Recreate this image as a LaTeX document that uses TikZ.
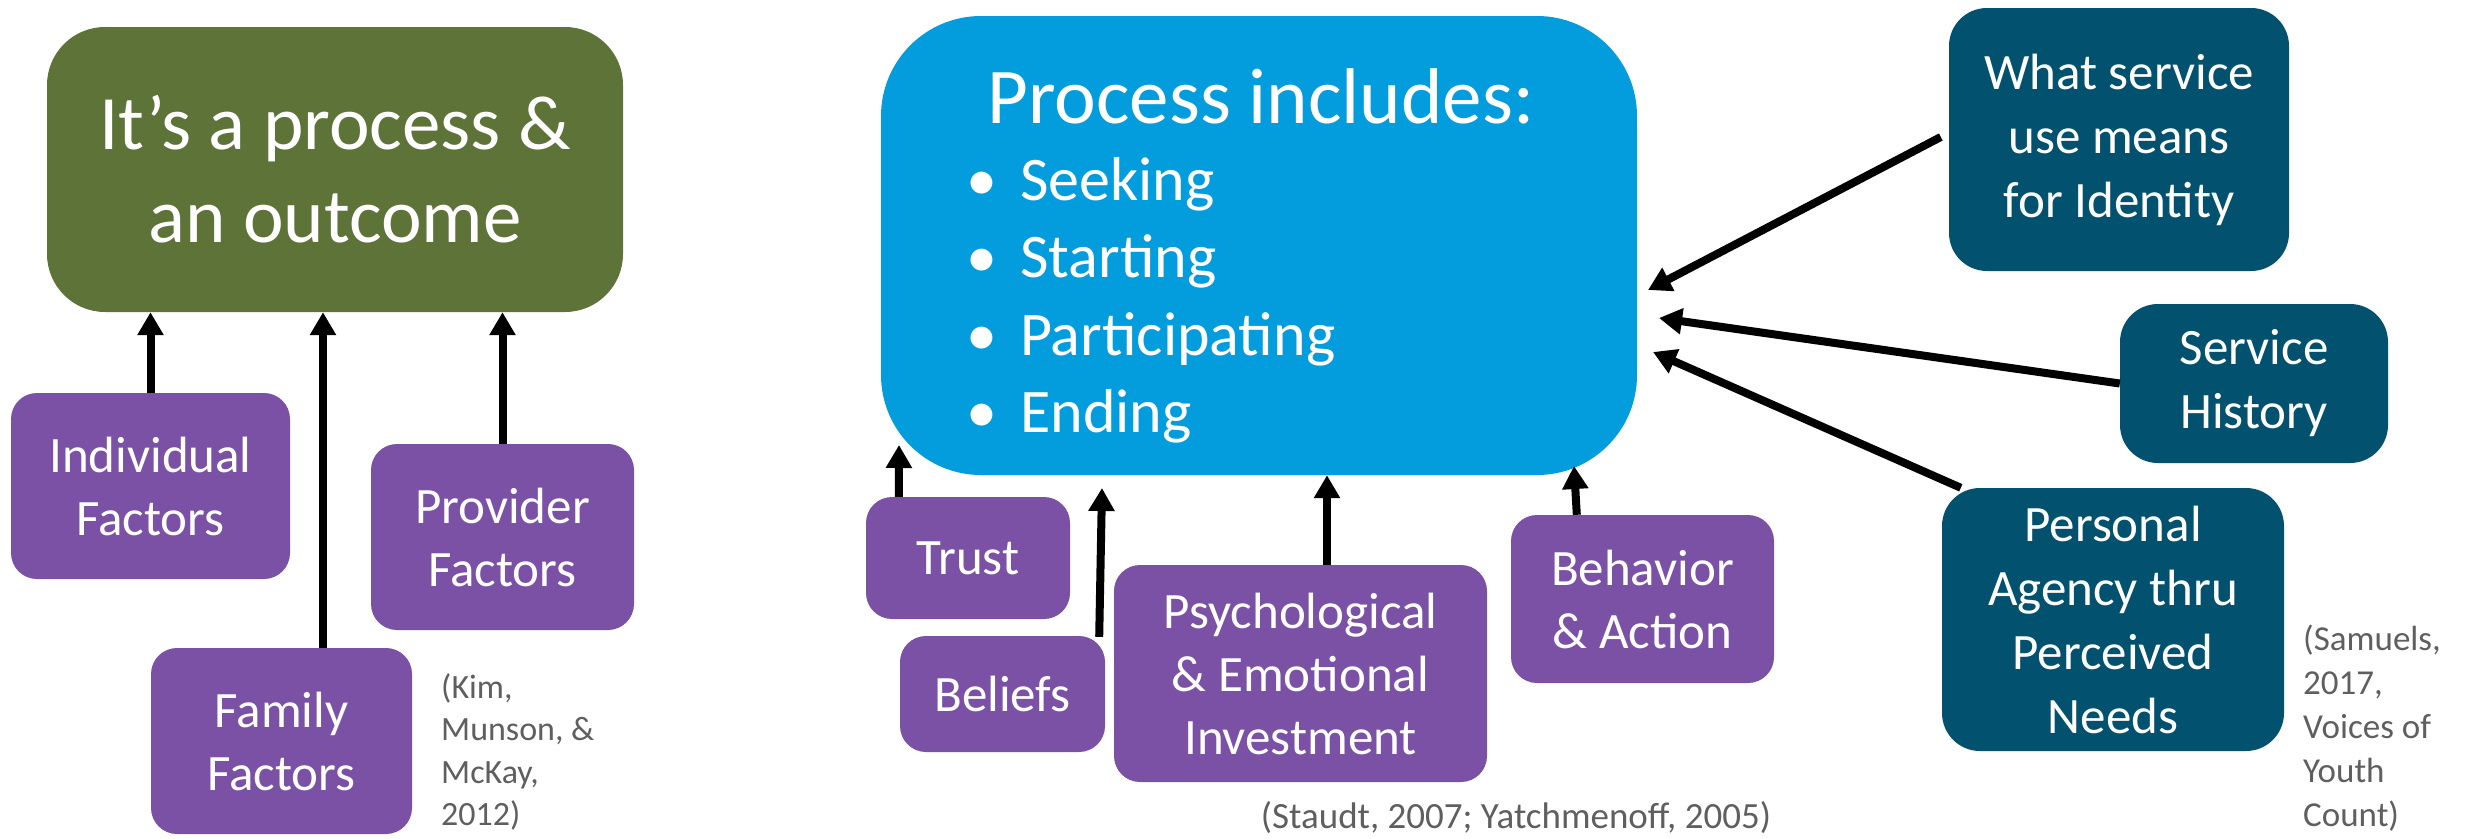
\documentclass[tikz,border=0pt]{standalone}
\usepackage{fontspec}
\setmainfont{Carlito}
\usetikzlibrary{arrows.meta,calc}
\definecolor{olivebox}{HTML}{5E7338}
\definecolor{purplebox}{HTML}{7B51A6}
\definecolor{bluebox}{HTML}{039DDE}
\definecolor{tealbox}{HTML}{02516F}
\definecolor{citegray}{HTML}{5F5F5F}
\begin{document}
\begin{tikzpicture}[x=1pt,y=-1pt,
  box/.style={draw=none, inner sep=0pt, align=center, text=white},
  greenbox/.style={box, fill=olivebox, rounded corners=58pt, font=\fontsize{77}{93}\selectfont},
  pbox/.style={box, fill=purplebox, rounded corners=26pt, font=\fontsize{51}{63}\selectfont},
  tbox/.style={box, fill=tealbox, rounded corners=38pt, font=\fontsize{51}{64}\selectfont},
  bbox/.style={box, fill=bluebox, rounded corners=100pt},
  arr/.style={line width=8pt, -{Triangle[length=23pt,width=25pt]}},
  cite/.style={inner sep=0pt, align=left, text=citegray, font=\fontsize{34}{42.5}\selectfont},
  titletext/.style={inner sep=0pt, text=white, font=\fontsize{79}{90}\selectfont},
  itemtext/.style={inner sep=0pt, text=white, font=\fontsize{62}{75}\selectfont}
]
\useasboundingbox (0,0) rectangle (2468,838);

% ---------- left group ----------
\node[greenbox, minimum width=576pt, minimum height=285pt] (green) at (335,169.5) {It’s a process \&\\an outcome};
\node[pbox, minimum width=279pt, minimum height=186pt] (indiv) at (150.5,486) {Individual\\Factors};
\node[pbox, minimum width=261pt, minimum height=186pt] (family) at (281.5,741) {Family\\Factors};
\node[pbox, minimum width=263pt, minimum height=186pt] (provider) at (502.5,537) {Provider\\Factors};
\node[cite, anchor=north west] (citeA) at (441,673) {(Kim,\\Munson, \&\\McKay,\\2012)};

\coordinate (famA) at ($(family.north)+(41.5,0)$);
\draw[arr] (indiv.north) -- (indiv.north |- green.south);
\draw[arr] (famA) -- (famA |- green.south);
\draw[arr] (provider.north) -- (provider.north |- green.south);

% ---------- middle group ----------
\node[bbox, minimum width=756pt, minimum height=459pt] (blue) at (1259,245.5) {};
\node[titletext, anchor=base] (title) at (1261,123) {Process includes:};
\node[itemtext, anchor=base] (b1) at (982,200) {\textbullet};
\node[itemtext, anchor=base west] (i1) at (1020,200) {Seeking};
\node[itemtext, anchor=base] (b2) at (982,277.5) {\textbullet};
\node[itemtext, anchor=base west] (i2) at (1020,277.5) {Starting};
\node[itemtext, anchor=base] (b3) at (982,355) {\textbullet};
\node[itemtext, anchor=base west] (i3) at (1020,355) {Participating};
\node[itemtext, anchor=base] (b4) at (982,432.5) {\textbullet};
\node[itemtext, anchor=base west] (i4) at (1020,432.5) {Ending};

\node[pbox, minimum width=204pt, minimum height=122pt] (trust) at (968,558) {Trust};
\node[pbox, minimum width=205pt, minimum height=116pt] (beliefs) at (1002.5,694) {Beliefs};
\node[pbox, minimum width=373pt, minimum height=217pt] (psych) at (1300.5,673.5) {Psychological\\\& Emotional\\Investment};
\node[pbox, minimum width=263pt, minimum height=168pt] (behav) at (1642.5,599) {Behavior\\\& Action};
\node[cite, anchor=center, align=center, font=\fontsize{37}{44}\selectfont] (citeB) at (1516,818) {(Staudt, 2007; Yatchmenoff, 2005)};

\coordinate (trA) at ($(trust.north west)+(33,0)$);
\coordinate (trB) at (899,445);
\coordinate (beA) at ($(beliefs.north east)+(-6,1)$);
\coordinate (beB) at (1102,488);
\coordinate (psA) at ($(psych.north)+(26.5,0)$);
\coordinate (beh) at ($(behav.north west)+(66,0)$);
\coordinate (behB) at (1574,466);
\draw[arr] (trA) -- (trB);
\draw[arr] (beA) -- (beB);
\draw[arr] (psA) -- (psA |- blue.south);
\draw[arr] (beh) -- (behB);

% ---------- right group ----------
\node[tbox, minimum width=340pt, minimum height=263pt] (whatid) at (2119,139.5) {What service\\use means\\for Identity};
\node[tbox, minimum width=268pt, minimum height=159pt] (hist) at (2254,383.5) {Service\\History};
\node[tbox, minimum width=342pt, minimum height=263pt] (agency) at (2113,619.5) {Personal\\Agency thru\\Perceived\\Needs};
\node[cite, anchor=north west, font=\fontsize{35}{44}\selectfont] (citeC) at (2303,625) {(Samuels,\\2017,\\Voices of\\Youth\\Count)};

\coordinate (whA) at ($(whatid.west)+(-8,-2.5)$);
\coordinate (whB) at (1648,290);
\coordinate (hiB) at (1659,318);
\coordinate (agA) at ($(agency.north west)+(19,0)$);
\coordinate (agB) at (1653,352);
\draw[arr] (whA) -- (whB);
\draw[arr] (hist.west) -- (hiB);
\draw[arr] (agA) -- (agB);
\end{tikzpicture}
\end{document}
